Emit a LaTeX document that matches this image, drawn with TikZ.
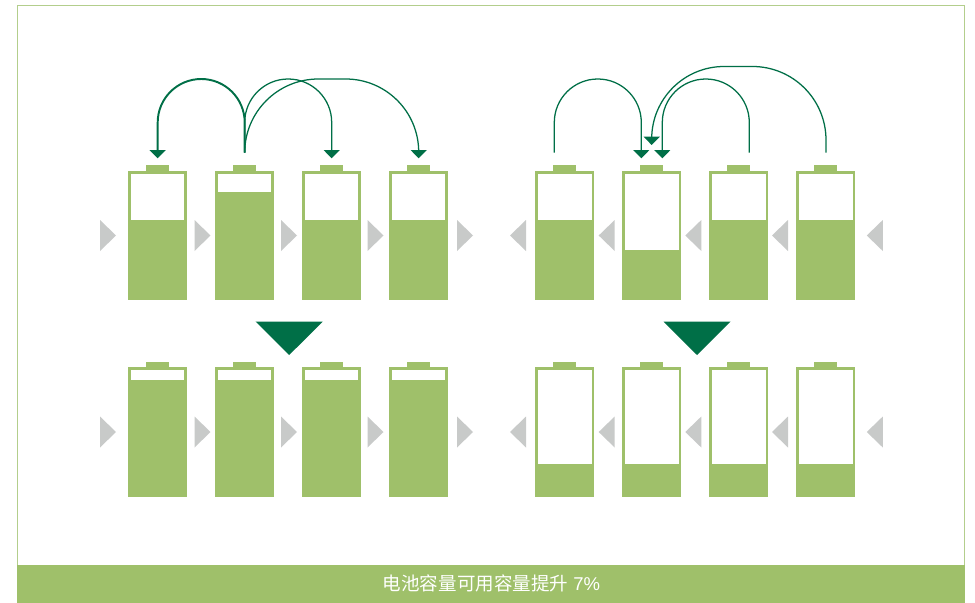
\documentclass[tikz,border=0pt]{standalone}
\usepackage{fontspec}
\newfontfamily\cjk{Noto Sans CJK SC}
\newfontfamily\latn{Liberation Sans}
\usetikzlibrary{arrows.meta}
\definecolor{leaf}{HTML}{9FC06A}
\definecolor{edgeleaf}{HTML}{B3CE8C}
\definecolor{pine}{HTML}{006F47}
\definecolor{ash}{HTML}{C8CAC9}
\newcommand{\cell}[5]{% name, left x, top y, bottom y, level y
  \fill[leaf] (#2+18,#3-6) rectangle (#2+41,#3);
  \fill[white] (#2,#3) rectangle (#2+59,#4);
  \draw[leaf,line width=1.9pt] (#2+1.25,#3+1.25) rectangle (#2+57.75,#4-1.25);
  \fill[leaf] (#2,#5) rectangle (#2+59,#4);
  \coordinate (#1) at (#2+29.5,#3);
}
\newcommand{\pr}[2]{\fill[ash] (#1,#2-15.5) -- (#1+16,#2) -- (#1,#2+15.5) -- cycle;}
\newcommand{\pl}[2]{\fill[ash] (#1+16,#2-15.5) -- (#1,#2) -- (#1+16,#2+15.5) -- cycle;}
\tikzset{
  link/.style={pine,line width=0.95pt,-{Triangle[width=12pt,length=6.2pt]}},
  linkheavy/.style={link,line width=1.45pt},
  bigdown/.style={fill=pine}
}
\begin{document}
\begin{tikzpicture}[x=0.75pt,y=-0.75pt]
\useasboundingbox (0,0) rectangle (975,603);
\fill[white] (0,0) rectangle (975,603);
\draw[edgeleaf,line width=0.8pt] (17.5,565) -- (17.5,5.5) -- (964.5,5.5) -- (964.5,565);
\fill[leaf] (17,565) rectangle (965,603);
\node[text=white,inner sep=0pt,anchor=center] (caption) at (491.5,583)
  {\fontsize{13.9pt}{16pt}\selectfont\cjk 电池容量可用容量提升\latn{} 7\%};

% batteries
\cell{a1}{128}{171}{300}{220}
\cell{a2}{215}{171}{300}{191.7}
\cell{a3}{302}{171}{300}{220}
\cell{a4}{389}{171}{300}{220}
\cell{b1}{535.3}{171}{300}{220}
\cell{b2}{622.3}{171}{300}{250}
\cell{b3}{709.3}{171}{300}{220}
\cell{b4}{796.3}{171}{300}{220}
\cell{c1}{128}{367.5}{496.7}{380}
\cell{c2}{215}{367.5}{496.7}{380}
\cell{c3}{302}{367.5}{496.7}{380}
\cell{c4}{389}{367.5}{496.7}{380}
\cell{d1}{535.3}{367.5}{496.7}{464}
\cell{d2}{622.3}{367.5}{496.7}{464}
\cell{d3}{709.3}{367.5}{496.7}{464}
\cell{d4}{796.3}{367.5}{496.7}{464}

% flow triangles
\foreach \yy in {235.5,432}{
  \foreach \xx in {100,194.5,281,367.5,457}{\pr{\xx}{\yy}}
  \foreach \xx in {510,598.7,685.3,772,866.8}{\pl{\xx}{\yy}}
}
\fill[bigdown] (255.7,321.7) -- (322.7,321.7) -- (289.2,355) -- cycle;
\fill[bigdown] (663.5,321.7) -- (730.5,321.7) -- (697,355) -- cycle;

% connector ends
\coordinate (s2) at (244.7,152.7);
\coordinate (e1) at (157.7,158.3);
\coordinate (e3) at (331.7,158.3);
\coordinate (e4) at (418.7,158.3);
\coordinate (t1) at (554.3,152.7);
\coordinate (t3) at (749.3,152.7);
\coordinate (t4) at (826,152.7);
\coordinate (f1) at (641.3,158.3);
\coordinate (f3) at (662.3,158.3);
\coordinate (f4) at (651.7,145);

% left connectors
\draw[linkheavy] (s2) -- (244.7,122.5) arc[start angle=0,end angle=-180,radius=43.5] -- (e1);
\draw[link] (s2) -- (244.7,122.5) arc[start angle=180,end angle=360,radius=43.5] -- (e3);
\draw[link] (s2) arc[start angle=180,end angle=270,radius=73.7] -- (345.7,79) arc[start angle=270,end angle=360,radius=73] -- (e4);
% right connectors
\draw[link] (t1) -- (554.3,122.5) arc[start angle=180,end angle=360,radius=43.5] -- (f1);
\draw[link] (t3) -- (749.3,122.5) arc[start angle=0,end angle=-180,radius=43.5] -- (f3);
\draw[link] (t4) -- (826,140) arc[start angle=0,end angle=-90,radius=73.5] -- (724,66.5) arc[start angle=-90,end angle=-180,radius=72.3] -- (f4);
\end{tikzpicture}
\end{document}
